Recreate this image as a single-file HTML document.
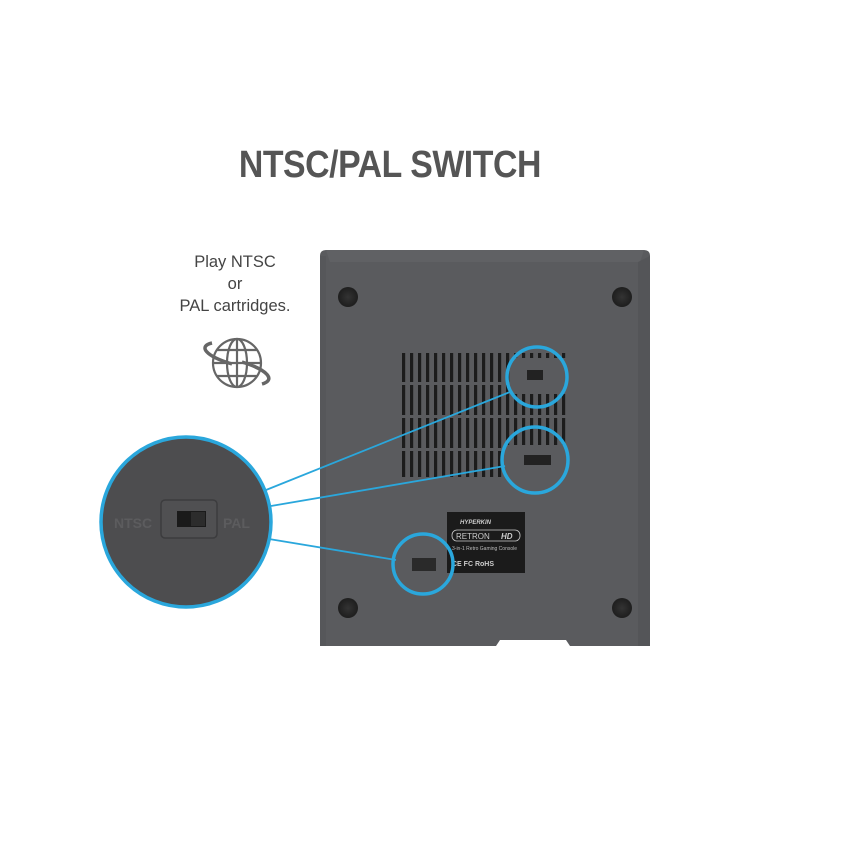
<!DOCTYPE html>
<html><head><style>
html,body{margin:0;padding:0;background:#fff;}
body{width:855px;height:855px;position:relative;overflow:hidden;font-family:"Liberation Sans",sans-serif;}
.title{position:absolute;left:0;width:780px;top:144px;text-align:center;font-weight:bold;font-size:38px;color:#555;letter-spacing:-0.5px;transform:scaleX(0.89);transform-origin:389px 0;}
.txt{position:absolute;left:135px;width:200px;top:251px;text-align:center;font-size:16.5px;line-height:22px;color:#444;}
</style></head><body>
<div class="title">NTSC/PAL SWITCH</div>
<div class="txt">Play NTSC<br>or<br>PAL cartridges.</div>
<svg width="855" height="855" style="position:absolute;left:0;top:0">
<defs>
<radialGradient id="ft"><stop offset="0" stop-color="#333"/><stop offset="1" stop-color="#1e1e1e"/></radialGradient>
<pattern id="vp" x="402" y="0" width="8" height="10" patternUnits="userSpaceOnUse"><rect x="0" y="0" width="3.2" height="10" fill="#1c1c1c"/></pattern>
</defs>
<g stroke="#666" stroke-width="2.2" fill="none">
<circle cx="237" cy="363" r="24"/>
<ellipse cx="237" cy="363" rx="10" ry="24"/>
<line x1="237" y1="339" x2="237" y2="387"/>
<line x1="213" y1="363" x2="261" y2="363"/>
<line x1="217" y1="350" x2="257" y2="350"/>
<line x1="217" y1="376" x2="257" y2="376"/>
<path d="M232 364 C205 356 198 346 212 343" stroke-width="3.5"/>
<path d="M242 362 C268 370 276 380 262 384" stroke-width="3.5"/>
</g>
<path d="M326 250 L644 250 Q650 250 650 256 L650 646 L570 646 L566 640 L500 640 L496 646 L320 646 L320 256 Q320 250 326 250 Z" fill="#5a5b5e"/>
<path d="M326 250 L644 250 L640 262 L330 262 Z" fill="#606164"/>
<path d="M638 262 L650 256 L650 646 L638 646 Z" fill="#545558"/>
<rect x="320" y="256" width="6" height="390" fill="#56575a"/>
<circle cx="348" cy="297" r="10" fill="url(#ft)"/>
<circle cx="622" cy="297" r="10" fill="url(#ft)"/>
<circle cx="348" cy="608" r="10" fill="url(#ft)"/>
<circle cx="622" cy="608" r="10" fill="url(#ft)"/>
<rect x="402" y="353" width="166" height="29" fill="url(#vp)"/>
<rect x="402" y="385" width="166" height="30" fill="url(#vp)"/>
<rect x="402" y="418" width="166" height="30" fill="url(#vp)"/>
<rect x="402" y="451" width="166" height="26" fill="url(#vp)"/>
<rect x="510" y="358" width="58" height="36" fill="#5a5b5e"/>
<rect x="505" y="445" width="63" height="32" fill="#5a5b5e"/>
<rect x="527" y="370" width="16" height="10" fill="#222"/>
<rect x="524" y="455" width="27" height="10" fill="#222"/>
<rect x="412" y="558" width="24" height="13" fill="#2a2a2a"/>
<rect x="447" y="512" width="78" height="61" fill="#1b1b1b"/>
<text x="460" y="524" font-size="6" fill="#ccc" font-style="italic" font-weight="bold">HYPERKIN</text>
<rect x="452" y="530" width="68" height="11" rx="5" fill="none" stroke="#ccc" stroke-width="0.8"/>
<text x="456" y="539" font-size="8" fill="#ccc">RETRON</text>
<text x="501" y="539" font-size="8" fill="#ccc" font-weight="bold" font-style="italic">HD</text>
<text x="452" y="550" font-size="5" fill="#bbb">3-in-1 Retro Gaming Console</text>
<text x="452" y="566" font-size="7" fill="#ccc" font-weight="bold">CE FC RoHS</text>
<g stroke="#2aa7dc" stroke-width="1.8" fill="none">
<line x1="266" y1="490" x2="510" y2="392"/>
<line x1="271" y1="506" x2="505" y2="466"/>
<line x1="269" y1="539" x2="396" y2="560"/>
<circle cx="537" cy="377" r="30" stroke-width="3.5"/>
<circle cx="535" cy="460" r="33" stroke-width="3.5"/>
<circle cx="423" cy="564" r="30" stroke-width="3.5"/>
</g>
<circle cx="186" cy="522" r="85" fill="#4d4d4f" stroke="#2aa7dc" stroke-width="3.5"/>
<rect x="161" y="500" width="56" height="38" rx="4" fill="#505052" stroke="#3c3c3e" stroke-width="1.5"/>
<rect x="177" y="511" width="29" height="16" fill="#1a1a1a"/>
<rect x="191" y="512" width="14" height="14" fill="#2c2c2c"/>
<text x="114" y="528" font-size="14" font-weight="bold" fill="#5c5c5e">NTSC</text>
<text x="223" y="528" font-size="14" font-weight="bold" fill="#5c5c5e">PAL</text>
</svg>
</body></html>
